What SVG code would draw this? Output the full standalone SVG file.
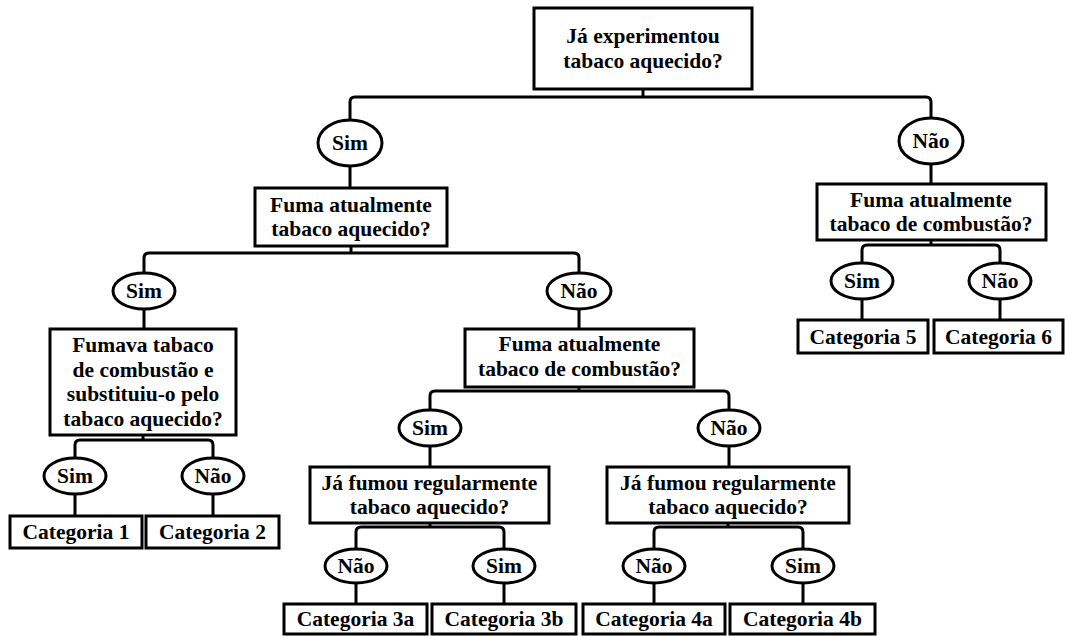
<svg xmlns="http://www.w3.org/2000/svg" width="1065" height="636" viewBox="0 0 1065 636">
<style>
.box{fill:#fff;stroke:#000;stroke-width:3}
.ell{fill:#fff;stroke:#000;stroke-width:3}
.con{fill:none;stroke:#000;stroke-width:3}
text{font-family:'Liberation Serif','Times New Roman',serif;font-weight:bold;font-size:21.5px;fill:#000;text-anchor:middle}
</style>
<rect width="1065" height="636" fill="#fff"/>
<g id="connectors">
<path class="con" d="M643 89V97M350 121V102Q350 97 355 97H926Q931 97 931 102V118"/>
<path class="con" d="M350 165V188M931 164V184"/>
<path class="con" d="M351 246V253M144 273V258Q144 253 149 253H574Q579 253 579 258V273"/>
<path class="con" d="M144 309V329M579 309V329"/>
<path class="con" d="M931 240V245M862 263V250Q862 245 867 245H995Q1000 245 1000 250V263"/>
<path class="con" d="M862 299V320M1000 299V320"/>
<path class="con" d="M143 435V440M75 458V445Q75 440 80 440H208Q213 440 213 445V458"/>
<path class="con" d="M75 494V516M213 494V516"/>
<path class="con" d="M579 387V391M430 410V396Q430 391 435 391H724Q729 391 729 396V410"/>
<path class="con" d="M430 446V467M729 446V467"/>
<path class="con" d="M430 523V527M356 549V532Q356 527 361 527H499Q504 527 504 532V549"/>
<path class="con" d="M728 523V527M654 549V532Q654 527 659 527H798Q803 527 803 532V549"/>
<path class="con" d="M356 584V604M504 584V604M654 584V604M803 584V604"/>
</g>
<g id="root"><rect class="box" x="534" y="8" width="218" height="81"/><text x="643" y="43">Já experimentou</text><text x="643" y="67.5">tabaco aquecido?</text></g>
<g id="sim1"><ellipse class="ell" cx="350" cy="143" rx="32" ry="23"/><text x="350" y="150">Sim</text></g>
<g id="nao1"><ellipse class="ell" cx="931" cy="141" rx="32" ry="23"/><text x="931" y="148">Não</text></g>
<g id="boxA"><rect class="box" x="255" y="188" width="192" height="58"/><text x="351" y="211.5">Fuma atualmente</text><text x="351" y="236">tabaco aquecido?</text></g>
<g id="boxB"><rect class="box" x="817" y="184" width="229" height="56"/><text x="931" y="206.5">Fuma atualmente</text><text x="931" y="231">tabaco de combustão?</text></g>
<g id="simA"><ellipse class="ell" cx="144" cy="291" rx="31" ry="18"/><text x="144" y="298">Sim</text></g>
<g id="naoA"><ellipse class="ell" cx="579" cy="291" rx="32" ry="18"/><text x="579" y="298">Não</text></g>
<g id="simB"><ellipse class="ell" cx="862" cy="281" rx="31" ry="18"/><text x="862" y="288">Sim</text></g>
<g id="naoB"><ellipse class="ell" cx="1000" cy="281" rx="31" ry="18"/><text x="1000" y="288">Não</text></g>
<g id="cat5"><rect class="box" x="798" y="320" width="130" height="33"/><text x="863" y="344">Categoria 5</text></g>
<g id="cat6"><rect class="box" x="934" y="320" width="129" height="33"/><text x="998.5" y="344">Categoria 6</text></g>
<g id="boxC"><rect class="box" x="50" y="329" width="186" height="106"/><text x="143" y="352">Fumava tabaco</text><text x="143" y="376.5">de combustão e</text><text x="143" y="401">substituiu-o pelo</text><text x="143" y="425.5">tabaco aquecido?</text></g>
<g id="boxD"><rect class="box" x="465" y="329" width="229" height="58"/><text x="579.5" y="351">Fuma atualmente</text><text x="579.5" y="375.5">tabaco de combustão?</text></g>
<g id="simC"><ellipse class="ell" cx="75" cy="476" rx="31" ry="18"/><text x="75" y="483">Sim</text></g>
<g id="naoC"><ellipse class="ell" cx="213" cy="476" rx="31" ry="18"/><text x="213" y="483">Não</text></g>
<g id="cat1"><rect class="box" x="10" y="516" width="132" height="32"/><text x="76" y="539">Categoria 1</text></g>
<g id="cat2"><rect class="box" x="146" y="516" width="133" height="32"/><text x="212.5" y="539">Categoria 2</text></g>
<g id="simD"><ellipse class="ell" cx="430" cy="428" rx="31" ry="18"/><text x="430" y="435">Sim</text></g>
<g id="naoD"><ellipse class="ell" cx="729" cy="428" rx="31" ry="18"/><text x="729" y="435">Não</text></g>
<g id="boxE"><rect class="box" x="310" y="467" width="239" height="56"/><text x="429.5" y="489.5">Já fumou regularmente</text><text x="429.5" y="514">tabaco aquecido?</text></g>
<g id="boxF"><rect class="box" x="607" y="467" width="242" height="56"/><text x="728" y="489.5">Já fumou regularmente</text><text x="728" y="514">tabaco aquecido?</text></g>
<g id="naoE"><ellipse class="ell" cx="356" cy="566" rx="31" ry="17"/><text x="356" y="573">Não</text></g>
<g id="simE"><ellipse class="ell" cx="504" cy="566" rx="31" ry="17"/><text x="504" y="573">Sim</text></g>
<g id="naoF"><ellipse class="ell" cx="654" cy="566" rx="31" ry="17"/><text x="654" y="573">Não</text></g>
<g id="simF"><ellipse class="ell" cx="803" cy="566" rx="31" ry="17"/><text x="803" y="573">Sim</text></g>
<g id="cat3a"><rect class="box" x="284" y="604" width="143" height="30"/><text x="355.5" y="626">Categoria 3a</text></g>
<g id="cat3b"><rect class="box" x="432" y="604" width="144" height="30"/><text x="504" y="626">Categoria 3b</text></g>
<g id="cat4a"><rect class="box" x="583" y="604" width="142" height="30"/><text x="654" y="626">Categoria 4a</text></g>
<g id="cat4b"><rect class="box" x="730" y="604" width="145" height="30"/><text x="802.5" y="626">Categoria 4b</text></g>
</svg>
